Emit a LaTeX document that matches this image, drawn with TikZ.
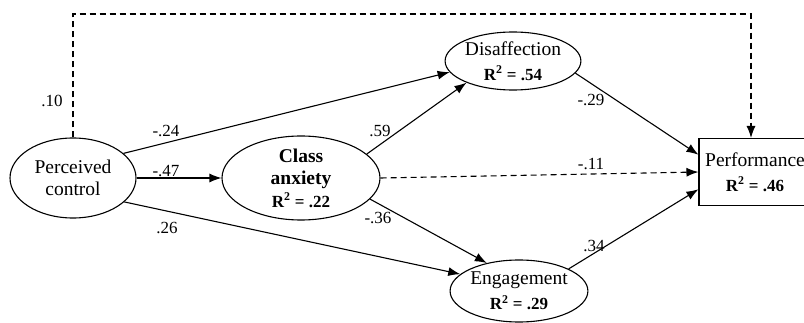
\documentclass[tikz,border=0pt]{standalone}
\usepackage{fontspec}
\setmainfont{Liberation Serif}
\usetikzlibrary{shapes.geometric,positioning,arrows.meta}

\newcommand{\rsq}[1]{{\fontsize{17}{20}\selectfont\bfseries R\textsuperscript{2} = #1}}

\begin{document}
\begin{tikzpicture}[x=1pt,y=-1pt,on grid,line width=1.1pt,
   >={Latex[length=12pt,width=9pt]},
   every node/.style={font=\fontsize{19.5}{22}\selectfont},
   latent/.style={ellipse,draw,inner sep=0pt,align=center},
   observed/.style={rectangle,draw,inner sep=0pt,align=center},
   coef/.style={font=\fontsize{17}{20}\selectfont,inner sep=0pt},
   nonsig/.style={dash pattern=on 6pt off 4pt}]
   \useasboundingbox (0,0) rectangle (804,323);

   \node[latent, minimum width=126pt, minimum height=80pt] (control) at (73,178) {Perceived\\control};
   \node[latent, minimum width=158pt, minimum height=84pt] (anxiety) [right=228pt of control]
      {\textbf{Class}\\\textbf{anxiety}\\[1pt]\rsq{.22}};
   \node[latent, minimum width=128pt, minimum height=58pt] (disaff) [above right=117pt and 212pt of anxiety]
      {Disaffection\\[3pt]\rsq{.54}};
   \node[latent, minimum width=124pt, minimum height=62pt] (engage) [below right=113pt and 218pt of anxiety]
      {Engagement\\[3pt]\rsq{.29}};
   \node[observed, minimum width=112pt, minimum height=67pt] (perf) [above right=6pt and 454pt of anxiety]
      {Performance\\[3pt]\rsq{.46}};

   \coordinate (top) at (400,14);
   \coordinate (perftop) at ([xshift=-4pt]perf.north);

   \node[coef] (c_perf)   at (52,101)  {.10};
   \node[coef] (c_cdis)   at (166,131) {-.24};
   \node[coef] (c_canx)   at (166,171) {-.47};
   \node[coef] (c_ceng)   at (167,228) {.26};
   \node[coef] (c_adis)   at (380,131) {.59};
   \node[coef] (c_aeng)   at (378,218) {-.36};
   \node[coef] (c_aperf)  at (591,164) {-.11};
   \node[coef] (c_dperf)  at (591,100) {-.29};
   \node[coef] (c_eperf)  at (594,246) {.34};

   \path[->]
   (control.26)  edge (disaff.190)
   (control.east) edge (anxiety.west)
   (control.335) edge (engage.164)

   (anxiety.20)  edge (disaff.205)
   (anxiety.343) edge (engage.139)
   (anxiety.east) edge[nonsig] (perf.west)

   (disaff.349)  edge (perf.163)
   (engage.24)   edge (perf.197);

   \draw[->,nonsig] (control.north) |- (top) -| (perftop);
\end{tikzpicture}
\end{document}
